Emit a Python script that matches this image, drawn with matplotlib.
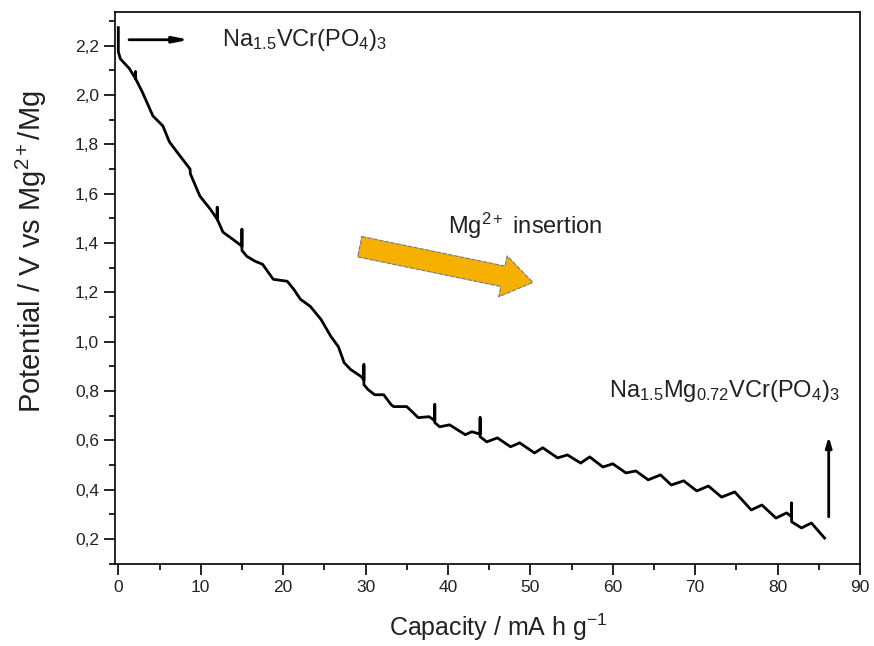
import matplotlib
matplotlib.use("Agg")
import matplotlib.pyplot as plt
from matplotlib.ticker import MultipleLocator, FuncFormatter

plt.rcParams['font.family'] = ['Liberation Sans', 'DejaVu Sans']
plt.rcParams['mathtext.fontset'] = 'custom'
plt.rcParams['mathtext.rm'] = 'Liberation Sans'
plt.rcParams['mathtext.it'] = 'Liberation Sans:italic'

# discharge curve (capacity / mA h g-1, potential / V)
capacity = [0.0, 0.0, 0.24, 1.34, 2.1, 2.1, 2.1, 2.9, 4.2, 5.4, 6.2, 7.1, 8.7, 8.75,
            9.9, 11.1, 12.0, 12.0, 12.0, 12.7, 13.9, 15.0, 15.0, 15.0, 15.6, 16.6,
            17.5, 18.8, 20.5, 21.3, 22.1, 23.3, 24.6, 25.8, 26.7, 27.4, 28.2, 29.5,
            29.8, 29.8, 29.8, 30.3, 31.1, 32.2, 33.1, 33.4, 35.0, 36.4, 37.7, 38.4,
            38.4, 38.4, 39.0, 40.2, 42.1, 42.9, 43.9, 43.9, 43.9, 44.7, 46.0, 47.6,
            48.7, 50.5, 51.5, 53.3, 54.5, 56.1, 57.2, 58.8, 60.0, 61.6, 62.8, 64.3,
            65.8, 67.1, 68.6, 70.2, 71.6, 73.2, 74.8, 76.8, 78.1, 79.8, 81.1, 81.7,
            81.7, 81.7, 82.9, 84.1, 85.7]
potential = [2.273, 2.176, 2.147, 2.107, 2.066, 2.094, 2.066, 2.013, 1.915, 1.875, 1.81,
             1.77, 1.70, 1.68, 1.59, 1.54, 1.497, 1.545, 1.497, 1.444, 1.415, 1.387,
             1.456, 1.370, 1.346, 1.326, 1.314, 1.253, 1.245, 1.212, 1.172, 1.143,
             1.090, 1.021, 0.98, 0.915, 0.887, 0.858, 0.845, 0.907, 0.826, 0.806,
             0.785, 0.785, 0.745, 0.737, 0.737, 0.692, 0.696, 0.68, 0.745, 0.672,
             0.655, 0.663, 0.623, 0.635, 0.625, 0.692, 0.615, 0.594, 0.61, 0.574,
             0.59, 0.549, 0.57, 0.529, 0.541, 0.508, 0.533, 0.492, 0.505, 0.468,
             0.476, 0.44, 0.46, 0.419, 0.436, 0.395, 0.415, 0.37, 0.391, 0.318,
             0.338, 0.285, 0.306, 0.29, 0.346, 0.27, 0.245, 0.265, 0.204]

start_label = r'Na$_{1.5}$VCr(PO$_4$)$_3$'
end_label = r'Na$_{1.5}$Mg$_{0.72}$VCr(PO$_4$)$_3$'
insertion_label = r'Mg$^{2+}$ insertion'

fig = plt.figure(figsize=(8.74, 6.46), dpi=100)
ax = fig.add_axes([0.1316, 0.127, 0.8524, 0.855])

ax.plot(capacity, potential, color='black', lw=2)

ax.set_xlim(-0.4, 90)
ax.set_ylim(0.099, 2.338)

ax.xaxis.set_major_locator(MultipleLocator(10))
ax.xaxis.set_minor_locator(MultipleLocator(5))
ax.yaxis.set_major_locator(MultipleLocator(0.2))
ax.yaxis.set_minor_locator(MultipleLocator(0.1))
ax.yaxis.set_major_formatter(FuncFormatter(lambda v, p: f"{v:.1f}".replace('.', ',')))

ax.tick_params(which='both', direction='out', top=False, right=False,
               width=1.2, colors='black', labelcolor='#222222', labelsize=12.5)
ax.tick_params(which='major', length=8)
ax.tick_params(which='minor', length=4.5)
for s in ax.spines.values():
    s.set_linewidth(1.2)

ax.set_xlabel(r'Capacity / mA h g$^{-1}$', fontsize=18, color='#222222')
ax.set_ylabel(r'Potential / V vs Mg$^{2+}$/Mg', fontsize=21, color='#222222')
ax.xaxis.set_label_coords(0.515, -0.087)
ax.yaxis.set_label_coords(-0.088, 0.565)

# start marker arrow
ax.annotate('', xy=(8.6, 2.224), xytext=(1.3, 2.224),
            arrowprops=dict(arrowstyle='-|>,head_length=0.9,head_width=0.18',
                            color='black', lw=2, shrinkA=0, shrinkB=0))
ax.text(12.6, 2.224, start_label, fontsize=17, color='#222222', va='center')

# Mg insertion arrow
ax.annotate('', xy=(50.3, 1.24), xytext=(29.3, 1.385),
            arrowprops=dict(arrowstyle='simple,head_length=1.1,head_width=1.5,tail_width=0.75',
                            fc='#F5B000', ec='#7a7a7a', ls='--', lw=0.8,
                            mutation_scale=20, shrinkA=0, shrinkB=0))
ax.text(40.0, 1.47, insertion_label, fontsize=17, color='#222222', va='center')

# end arrow
ax.annotate('', xy=(86.2, 0.615), xytext=(86.2, 0.29),
            arrowprops=dict(arrowstyle='-|>,head_length=0.6,head_width=0.18',
                            color='black', lw=2, shrinkA=0, shrinkB=0))
ax.text(59.6, 0.80, end_label, fontsize=17, color='#222222', va='center')

fig.savefig('out.png', dpi=100)
